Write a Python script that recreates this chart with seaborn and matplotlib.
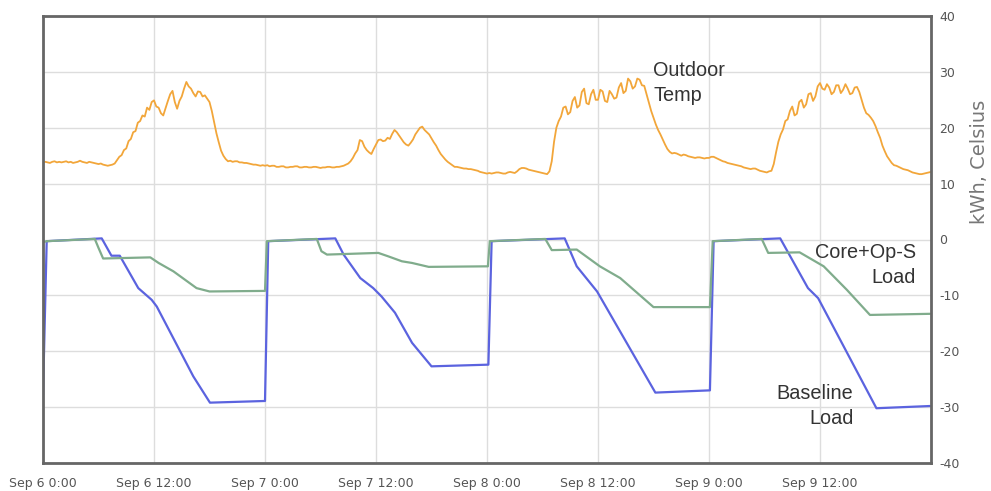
import numpy as np
import pandas as pd
import matplotlib
matplotlib.use("Agg")
import matplotlib.pyplot as plt
import seaborn as sns

# ---- data -------------------------------------------------------------
# Outdoor temperature (Celsius), quarter-hourly from Sep 6 0:00 to Sep 10 0:00
temp_step_hours = 0.25
outdoor_temp = [
    13.8, 13.9, 13.8, 13.7, 13.9, 14.0, 13.8, 13.9, 13.8, 13.9, 14.0, 13.8, 13.9, 13.7, 13.8, 13.9,
    14.1, 13.9, 13.8, 13.7, 13.9, 13.8, 13.7, 13.6, 13.5, 13.6, 13.4, 13.3, 13.2, 13.3, 13.4, 13.6,
    14.2, 14.8, 15.1, 16.0, 16.3, 17.6, 18.0, 19.2, 19.4, 20.9, 21.2, 22.2, 22.0, 23.6, 23.2, 24.6,
    24.9, 23.8, 23.6, 22.6, 22.2, 23.5, 24.8, 26.0, 26.6, 24.6, 23.4, 24.8, 25.6, 27.0, 28.2, 27.4,
    27.0, 26.2, 25.6, 26.5, 26.4, 25.6, 25.8, 25.2, 24.6, 23.0, 21.0, 19.0, 17.4, 15.9, 15.0, 14.4,
    14.0, 14.1, 13.9, 14.0, 14.0, 13.8, 13.8, 13.7, 13.7, 13.6, 13.5, 13.4, 13.4, 13.3, 13.2, 13.3,
    13.2, 13.3, 13.1, 13.2, 13.2, 13.0, 13.0, 13.1, 13.1, 12.9, 12.9, 13.0, 13.0, 13.1, 13.1, 12.9,
    12.9, 13.0, 13.0, 12.9, 12.9, 13.0, 13.0, 12.9, 12.8, 12.9, 12.9, 13.0, 13.0, 12.9, 12.9, 13.0,
    13.0, 13.1, 13.2, 13.4, 13.6, 14.0, 14.6, 15.4, 16.0, 17.8, 17.6, 16.6, 16.0, 15.6, 15.3, 16.2,
    17.0, 17.8, 17.9, 17.6, 17.7, 18.2, 18.0, 18.9, 19.6, 19.2, 18.6, 18.0, 17.4, 17.0, 16.8, 17.3,
    17.9, 18.8, 19.4, 20.0, 20.2, 19.6, 19.2, 18.8, 18.1, 17.4, 16.8, 16.0, 15.3, 14.8, 14.3, 13.9,
    13.6, 13.3, 13.0, 13.0, 12.9, 12.8, 12.7, 12.7, 12.6, 12.6, 12.5, 12.4, 12.3, 12.1, 12.0, 11.9,
    11.8, 11.9, 11.8, 11.9, 12.0, 12.0, 11.9, 11.8, 11.8, 12.0, 12.1, 12.0, 11.9, 12.2, 12.6, 12.8,
    12.8, 12.7, 12.5, 12.4, 12.3, 12.2, 12.1, 12.0, 11.9, 11.8, 11.7, 12.2, 14.0, 17.5, 20.0, 21.2,
    22.0, 23.6, 23.8, 22.4, 22.8, 24.8, 25.5, 23.6, 24.0, 26.4, 27.0, 24.4, 24.2, 26.0, 26.8, 25.0,
    25.0, 26.8, 26.5, 24.8, 24.6, 26.6, 26.0, 25.2, 25.4, 27.2, 28.0, 26.2, 26.6, 28.8, 28.3, 27.0,
    27.4, 28.8, 28.6, 27.6, 27.5, 26.0, 24.5, 23.0, 21.8, 20.6, 19.6, 18.8, 17.9, 17.0, 16.2, 15.7,
    15.4, 15.5, 15.4, 15.2, 15.0, 15.2, 15.1, 14.9, 14.8, 14.7, 14.6, 14.7, 14.7, 14.6, 14.5, 14.6,
    14.6, 14.8, 14.8, 14.6, 14.4, 14.2, 14.0, 13.9, 13.7, 13.6, 13.5, 13.4, 13.3, 13.2, 13.1, 12.9,
    12.8, 12.7, 12.6, 12.7, 12.7, 12.5, 12.3, 12.2, 12.1, 12.0, 12.2, 12.3, 13.5, 15.6, 17.5, 18.8,
    19.7, 21.2, 21.5, 23.0, 23.8, 22.2, 22.5, 24.6, 25.0, 23.6, 24.2, 26.0, 26.2, 24.8, 25.6, 27.4,
    28.0, 27.0, 26.8, 27.8, 27.2, 26.0, 26.4, 27.6, 27.6, 26.2, 26.8, 27.8, 27.0, 26.0, 26.2, 27.2,
    27.3, 26.4, 25.0, 23.6, 22.6, 22.3, 21.8, 21.2, 20.3, 19.2, 18.2, 16.8, 15.8, 14.9, 14.3, 13.7,
    13.3, 13.2, 13.0, 12.8, 12.6, 12.5, 12.4, 12.2, 12.0, 11.9, 11.8, 11.7, 11.7, 11.8, 11.9, 12.0,
    12.1,
]

# Baseline load (kWh): hours since Sep 6 0:00 and values
baseline_hours = [0.0, 0.4, 6.35, 7.4, 8.3, 10.3, 11.75, 12.3, 16.25, 18.05, 24.0,
                  24.35, 31.6, 32.5, 34.3, 35.7, 36.6, 38.05, 39.9, 42.0, 48.15,
                  48.5, 56.4, 57.7, 59.9, 66.2, 72.1,
                  72.5, 79.7, 82.7, 83.8, 90.1, 95.9]
baseline_load = [-27.8, -0.3, 0.2, -2.9, -2.9, -8.7, -10.8, -12.0, -24.5, -29.2, -28.9,
                 -0.3, 0.2, -2.7, -6.9, -8.7, -10.2, -13.1, -18.5, -22.7, -22.4,
                 -0.3, 0.2, -4.8, -9.3, -27.4, -27.0,
                 -0.3, 0.2, -8.7, -10.5, -30.2, -29.8]

# Core+Op-S load (kWh)
core_hours = [0.0, 0.4, 5.6, 6.0, 6.5, 11.6, 12.5, 14.1, 16.6, 18.0, 24.0,
              24.2, 29.6, 30.1, 30.7, 36.25, 37.3, 38.8, 39.9, 41.7, 48.1,
              48.3, 54.3, 55.0, 57.7, 60.2, 62.4, 66.0, 72.1,
              72.4, 77.7, 78.4, 81.8, 84.4, 86.9, 89.4, 95.9]
core_load = [-0.5, -0.3, 0.1, -1.5, -3.4, -3.2, -4.2, -5.7, -8.7, -9.3, -9.2,
             -0.3, 0.1, -2.1, -2.7, -2.4, -3.0, -3.9, -4.2, -4.9, -4.8,
             -0.3, 0.1, -1.9, -1.8, -4.8, -6.9, -12.1, -12.1,
             -0.3, 0.1, -2.4, -2.3, -4.8, -9.0, -13.5, -13.3]

tick_hours = [0, 12, 24, 36, 48, 60, 72, 84]
tick_labels = ["Sep 6 0:00", "Sep 6 12:00", "Sep 7 0:00", "Sep 7 12:00",
               "Sep 8 0:00", "Sep 8 12:00", "Sep 9 0:00", "Sep 9 12:00"]
y_ticks = [40, 30, 20, 10, 0, -10, -20, -30, -40]

# ---- frames -----------------------------------------------------------
temp_df = pd.DataFrame({
    "hour": np.arange(len(outdoor_temp)) * temp_step_hours,
    "value": outdoor_temp,
})
base_df = pd.DataFrame({"hour": baseline_hours, "value": baseline_load})
core_df = pd.DataFrame({"hour": core_hours, "value": core_load})

# ---- figure -----------------------------------------------------------
sns.set_style("white")
plt.rcParams["font.family"] = ["DejaVu Sans"]

fig = plt.figure(figsize=(9.91, 4.91), dpi=100)
ax = fig.add_axes([43 / 991, 28 / 491, 888 / 991, 447 / 491])

sns.lineplot(data=base_df, x="hour", y="value", ax=ax, color="#5b63df",
             linewidth=1.6, estimator=None, sort=False)
sns.lineplot(data=core_df, x="hour", y="value", ax=ax, color="#80ac8c",
             linewidth=1.6, estimator=None, sort=False)
sns.lineplot(data=temp_df, x="hour", y="value", ax=ax, color="#f2a63a",
             linewidth=1.3, estimator=None, sort=False)

ax.set_xlim(0, 96)
ax.set_ylim(-40, 40)
ax.set_xticks(tick_hours)
ax.set_xticklabels(tick_labels)
ax.set_yticks(y_ticks)
ax.set_yticklabels([str(v) for v in y_ticks])
ax.yaxis.tick_right()
ax.tick_params(axis="both", length=0, labelsize=9, labelcolor="#555555")
ax.tick_params(axis="x", pad=10)
ax.tick_params(axis="y", pad=6)
for lbl in ax.get_yticklabels():
    lbl.set_horizontalalignment("left")
ax.set_xlabel("")
ax.set_ylabel("")

ax.grid(True, color="#dddddd", linewidth=1.0)
ax.set_axisbelow(True)
for side in ["left", "right", "top", "bottom"]:
    ax.spines[side].set_visible(True)
    ax.spines[side].set_color("#666666")
    ax.spines[side].set_linewidth(2.0)

fig.text(0.988, 0.67, "kWh, Celsius", rotation=90, ha="center", va="center",
         fontsize=14, color="#777777")

label_font = dict(family="Liberation Sans", fontsize=14.3, color="#333333",
                  linespacing=1.4)
ax.text(65.95, 32.0, "Outdoor\nTemp", ha="left", va="top", **label_font)
ax.text(94.4, -0.7, "Core+Op-S\nLoad", ha="right", va="top",
        multialignment="right", **label_font)
ax.text(87.6, -25.9, "Baseline\nLoad", ha="right", va="top",
        multialignment="right", **label_font)

fig.savefig("out.png", dpi=100)
